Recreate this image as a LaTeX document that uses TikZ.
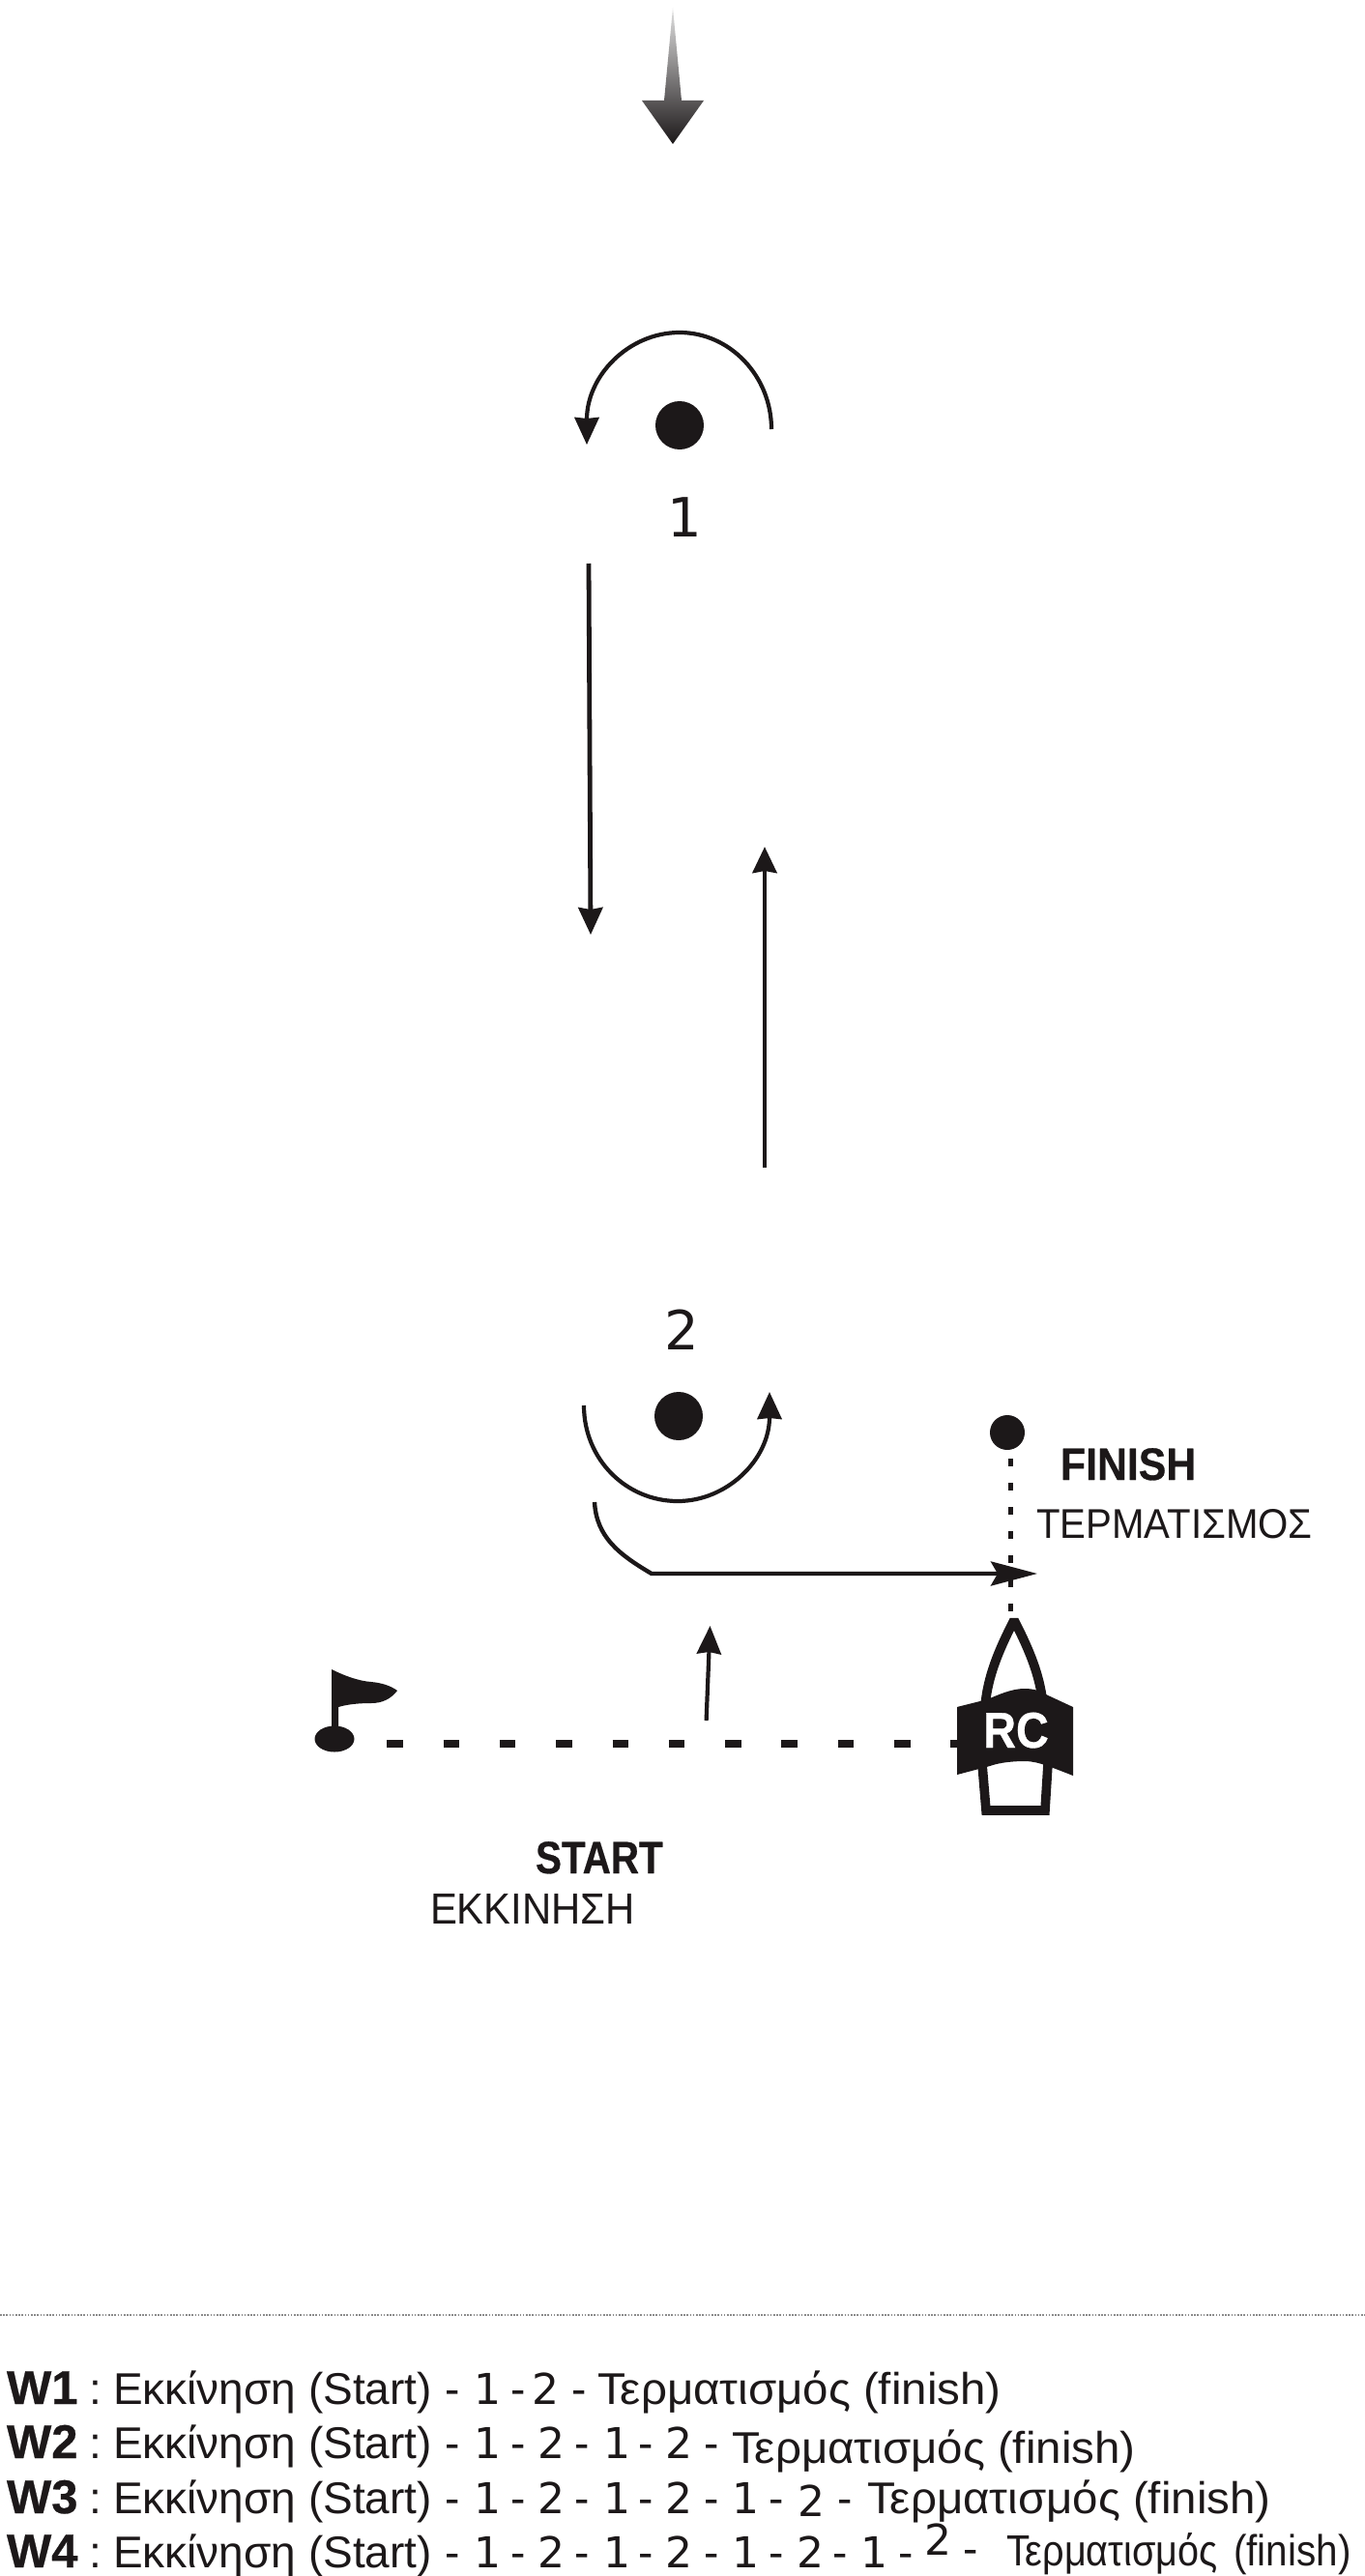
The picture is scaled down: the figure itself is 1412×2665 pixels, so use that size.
\documentclass[tikz,border=0pt]{standalone}
\usepackage{fontspec}
\setmainfont{Liberation Sans}
\newfontfamily\djv{DejaVu Sans}
\newfontfamily\heavy[UprightFont={* Bold},FakeBold=0.6]{Liberation Sans}
\usetikzlibrary{arrows.meta,shapes.geometric}
\definecolor{ink}{HTML}{1C1819}
\tikzset{
  txt/.style={inner sep=0pt,outer sep=0pt,anchor=base west,text=ink,font=\fontsize{23}{27}\selectfont},
  mid/.style={txt,anchor=base},
  dig/.style={mid,font=\djv\fontsize{22}{27}\selectfont},
  bigdig/.style={mid,font=\djv\fontsize{28}{32}\selectfont},
  lbl/.style={txt,font=\heavy\fontsize{23.5}{27}\selectfont},
  thinline/.style={draw=ink,line width=2.1pt},
  thickline/.style={draw=ink,line width=2.4pt},
}
\begin{document}
\begin{tikzpicture}[x=0.5pt,y=-0.5pt]
\useasboundingbox[fill=white] (0,0) rectangle (1412,2665);
% wind
\shade[top color=black!12,bottom color=ink] (696,8) -- (705,104) -- (728,104) -- (696,149) -- (664,104) -- (687,104) -- cycle;
% mark 1
\node[fill=ink,circle,minimum size=25pt,inner sep=0pt] (m1) at (703,440) {};
\node[bigdig] (l1) at (708,555) {1};
\coordinate (a1s) at (798,444);
\coordinate (a1e) at (607,460);
\draw[thinline,-{Stealth[length=14pt,width=12.5pt,inset=0.5pt]}] (a1s) .. controls (798,389) and (755,344) .. (703,344) .. controls (650,344) and (607,389) .. (a1e);
% legs
\coordinate (d1) at (609,583);
\coordinate (d2) at (611,967);
\draw[thickline,-{Stealth[length=14pt,width=12.5pt,inset=1pt]}] (d1) -- (d2);
\coordinate (u1) at (791,1208);
\coordinate (u2) at (791,876);
\draw[thickline,-{Stealth[length=13.5pt,width=12.5pt,inset=1pt]}] (u1) -- (u2);
% mark 2
\node[fill=ink,circle,minimum size=25pt,inner sep=0pt] (m2) at (702,1465) {};
\node[bigdig] (l2) at (705,1396) {2};
\coordinate (a2s) at (604,1454);
\coordinate (a2e) at (796,1440);
\draw[thinline,-{Stealth[length=14pt,width=12.5pt,inset=0.5pt]}] (a2s) .. controls (604,1510) and (648,1553) .. (701,1553) .. controls (752,1553) and (796,1510) .. (a2e);
% finish
\node[fill=ink,circle,minimum size=18pt,inner sep=0pt] (fm) at (1042,1482) {};
\coordinate (fd1) at (1045,1509);
\coordinate (fd2) at (1045,1668);
\draw[draw=ink,line width=2.5pt,dash pattern=on 3.75pt off 8.75pt] (fd1) -- (fd2);
\coordinate (c1) at (615,1554);
\coordinate (c2) at (674,1628);
\coordinate (c3) at (1073,1628);
\draw[thickline,line width=2.2pt,-{Stealth[length=24pt,width=12.5pt,inset=3.5pt]}] (c1) .. controls (617,1590) and (640,1608) .. (c2) -- (c3);
% small arrow
\coordinate (s1) at (730.6,1780);
\coordinate (s2) at (734.5,1682);
\draw[thinline,-{Stealth[length=14.5pt,width=12.5pt,inset=1pt]}] (s1) -- (s2);
% start line
\coordinate (sl1) at (400.3,1804);
\coordinate (sl2) at (1000,1804);
\draw[draw=ink,line width=4pt,dash pattern=on 8.25pt off 20.9pt] (sl1) -- (sl2);
% flag
\node[fill=ink,ellipse,minimum width=20.5pt,minimum height=13.5pt,inner sep=0pt] (fb) at (346,1799) {};
\fill[ink] (343,1727) .. controls (355,1733) and (370,1739) .. (384,1740) .. controls (395,1741) and (404,1744) .. (411,1749) .. controls (404,1758) and (395,1762) .. (384,1762) .. controls (372,1762) and (360,1763) .. (350,1766) -- (350,1795) -- (343,1795) -- cycle;
% boat
\draw[draw=ink,line width=4.8pt,line join=bevel] (1019,1765) .. controls (1022,1730) and (1037,1700) .. (1049,1676) .. controls (1061,1700) and (1076,1730) .. (1079,1765);
\draw[draw=ink,line width=4.8pt,line join=miter] (1016,1825) -- (1020,1873) -- (1081,1873) -- (1084,1825);
\fill[ink] (990,1766) .. controls (1005,1762) and (1015,1760) .. (1024,1757) .. controls (1040,1750) and (1050,1747) .. (1060,1747) .. controls (1070,1747) and (1078,1750) .. (1082,1753) -- (1110,1766) -- (1110,1837) .. controls (1100,1833) and (1092,1830) .. (1084,1827) .. controls (1075,1824) and (1068,1822) .. (1060,1822) .. controls (1050,1822) and (1035,1823) .. (1024,1827) -- (990,1836) -- cycle;
\node[mid,text=white,font=\heavy\fontsize{26}{30}\selectfont] (rc) at (1051,1808) {\scalebox{0.9}[1]{RC}};
% labels
\node[lbl] (fin) at (1097,1531) {\scalebox{0.91}[1]{FINISH}};
\node[txt,font=\fontsize{21.5}{26}\selectfont] (term) at (1072,1591) {\scalebox{0.935}[1]{ΤΕΡΜΑΤΙΣΜΟΣ}};
\node[lbl] (st) at (554,1938) {\scalebox{0.86}[1]{START}};
\node[txt,font=\fontsize{22.5}{27}\selectfont] (ekk) at (445,1990) {\scalebox{0.93}[1]{ΕΚΚΙΝΗΣΗ}};
% rule
\coordinate (r1) at (0,2395);
\coordinate (r2) at (1412,2395);
\draw[draw=black!45,line width=0.8pt,dash pattern=on 0.8pt off 0.8pt] (r1) -- (r2);
% routes
\foreach \n/\t/\y in {1/W1/2487,2/W2/2543,3/W3/2600,4/W4/2656}{
  \node[lbl,font=\heavy\fontsize{24.5}{27}\selectfont] (w\n) at (7,\y) {\t};
  \node[txt] (wc\n) at (92,\y) {:};
  \node[txt] (ws\n) at (117,\y) {Εκκίνηση (Start)};
}
\foreach \n/\x/\y/\t in {a/504.5/2487/1,b/564.5/2487/2,
  c/504.5/2543/1,d/570/2543/2,e/638/2543/1,f/702.5/2543/2,
  g/504.5/2600/1,h/570/2600/2,i/638/2600/1,j/702.5/2600/2,k/771/2600/1,l/839.5/2603/2,
  m/504.5/2656/1,n/570/2656/2,o/638/2656/1,p/702.5/2656/2,q/771/2656/1,r/838.5/2656/2,s/904.5/2656/1,t/970/2643/2}{
  \node[dig] (dg\n) at (\x,\y) {\t};
}
\foreach \n/\x/\y in {a/468/2487,b/536/2487,c/599/2487,
  d/468/2543,e/536/2543,f/602/2543,g/668/2543,h/736/2543,
  i/468/2600,j/536/2600,k/602/2600,l/668/2600,m/736/2600,n/803/2600,o/874/2600,
  p/468/2656,q/536/2656,r/602/2656,s/668/2656,t/736/2656,u/803/2656,v/869/2656,w/937/2656,x/1004/2652}{
  \node[mid] (hy\n) at (\x,\y) {-};
}
\node[txt] (t1) at (618,2487) {\scalebox{1.032}[1]{Τερματισμός (finish)}};
\node[txt] (t2) at (757,2548) {\scalebox{1.032}[1]{Τερματισμός (finish)}};
\node[txt] (t3) at (897,2600) {\scalebox{1.032}[1]{Τερματισμός (finish)}};
\node[txt,font=\fontsize{22.5}{27}\selectfont] (t4) at (1041,2654) {\scalebox{0.88}[1]{Τερματισμός}};
\node[txt,font=\fontsize{22.5}{27}\selectfont] (t4f) at (1276,2654) {\scalebox{0.9}[1]{(finish)}};
\end{tikzpicture}
\end{document}
